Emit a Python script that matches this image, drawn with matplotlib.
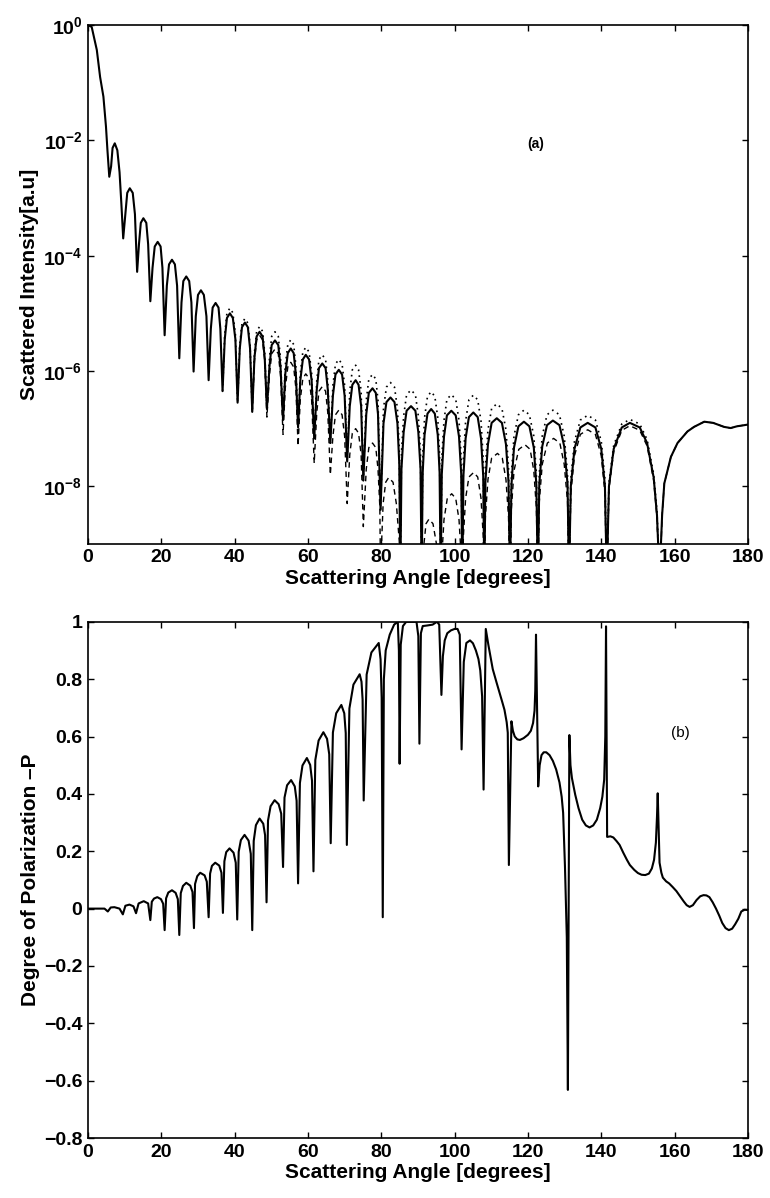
import matplotlib
matplotlib.use('Agg')
import matplotlib.pyplot as plt
import numpy as np
from matplotlib.ticker import FixedLocator, FuncFormatter, LogFormatterSciNotation, NullLocator

plt.rcParams['font.family'] = ['Liberation Sans', 'DejaVu Sans']
plt.rcParams['font.weight'] = 'bold'
plt.rcParams['axes.labelweight'] = 'bold'
plt.rcParams['mathtext.fontset'] = 'custom'
plt.rcParams['mathtext.rm'] = 'Liberation Sans:bold'
plt.rcParams['mathtext.it'] = 'Liberation Sans:italic:bold'
plt.rcParams['mathtext.bf'] = 'Liberation Sans:bold'

# ---- (a) scattered intensity, log10 values ----
# total (solid)
angle_total = [
    0.0, 1.0, 1.6, 2.4, 3.3, 4.2, 4.9, 5.3, 5.8,
    6.3, 6.7, 7.3, 8.0, 8.6, 9.1, 9.6,
    10.2, 10.7, 11.4, 12.2, 12.8, 13.4,
    13.9, 14.4, 15.1, 15.9, 16.4, 17.0,
    17.6, 18.2, 19.0, 19.8, 20.3, 20.9,
    21.5, 22.1, 22.9, 23.7, 24.3, 24.9,
    25.5, 26.0, 26.8, 27.6, 28.2, 28.8,
    29.4, 30.0, 30.8, 31.6, 32.3, 32.9,
    33.5, 34.0, 34.8, 35.6, 36.1, 36.7,
    37.3, 37.9, 38.7, 39.5, 40.2, 40.8,
    41.4, 42.0, 42.8, 43.6, 44.2, 44.8,
    45.4, 46.0, 46.8, 47.6, 48.2, 48.8,
    49.5, 50.1, 51.0, 51.9, 52.5, 53.2,
    53.8, 54.5, 55.3, 56.1, 56.7, 57.3,
    57.9, 58.6, 59.4, 60.3, 61.0, 61.7,
    62.4, 63.0, 63.9, 64.8, 65.4, 66.1,
    66.8, 67.5, 68.4, 69.3, 70.0, 70.7,
    71.4, 72.1, 73.0, 73.8, 74.5, 75.1,
    75.9, 76.6, 77.6, 78.5, 79.1, 79.8,
    80.6, 81.4, 82.5, 83.6, 84.4, 84.9, 85.2,
    85.5, 86.1, 86.9, 88.1, 89.3, 90.1, 90.7, 91.0,
    91.3, 91.8, 92.6, 93.6, 94.6, 95.4, 95.9, 96.2,
    96.5, 97.1, 97.9, 99.1, 100.3, 101.2, 101.8, 102.1,
    102.4, 103.0, 103.9, 105.1, 106.3, 107.2, 107.8, 108.1,
    108.4, 109.1, 110.1, 111.5, 112.9, 114.0, 114.7, 115.1,
    115.5, 116.2, 117.4, 118.9, 120.4, 121.6, 122.3, 122.7,
    123.1, 123.9, 125.2, 126.8, 128.6, 129.9, 130.8, 131.2,
    131.7, 132.7, 134.3, 136.3, 138.4, 140.0, 141.0, 141.5,
    142.1, 143.4, 145.6, 147.8, 150.5, 152.5, 154.3, 155.2, 155.9,
    156.6, 157.2, 159.0, 160.8, 163.5, 165.3, 168.1, 170.5, 173.5, 175.3, 177.0, 180.0,
]
log_total = [
    0.0, -0.03, -0.2, -0.43, -0.9, -1.24, -1.76, -2.17, -2.63,
    -2.45, -2.13, -2.05, -2.17, -2.55, -3.1, -3.70,
    -3.28, -2.91, -2.83, -2.91, -3.28, -4.28,
    -3.80, -3.43, -3.35, -3.43, -3.80, -4.79,
    -4.21, -3.84, -3.76, -3.84, -4.21, -5.38,
    -4.52, -4.15, -4.07, -4.15, -4.52, -5.78,
    -4.81, -4.44, -4.36, -4.44, -4.81, -6.01,
    -5.05, -4.68, -4.60, -4.68, -5.05, -6.16,
    -5.27, -4.90, -4.82, -4.90, -5.27, -6.35,
    -5.45, -5.08, -5.00, -5.08, -5.45, -6.55,
    -5.61, -5.24, -5.16, -5.24, -5.61, -6.71,
    -5.77, -5.40, -5.32, -5.40, -5.77, -6.66,
    -5.92, -5.55, -5.47, -5.55, -5.92, -6.85,
    -6.06, -5.69, -5.61, -5.69, -6.06, -6.98,
    -6.17, -5.80, -5.72, -5.80, -6.17, -7.17,
    -6.32, -5.95, -5.87, -5.95, -6.32, -7.25,
    -6.43, -6.06, -5.98, -6.06, -6.43, -7.57,
    -6.61, -6.24, -6.16, -6.24, -6.61, -7.90,
    -6.75, -6.38, -6.30, -6.38, -6.75, -8.41,
    -6.91, -6.54, -6.46, -6.54, -6.91, -7.6, -9.6,
    -7.7, -7.06, -6.69, -6.61, -6.69, -7.06, -7.7, -9.6,
    -7.76, -7.11, -6.74, -6.66, -6.74, -7.11, -7.76, -9.6,
    -7.79, -7.14, -6.77, -6.69, -6.77, -7.14, -7.79, -9.6,
    -7.82, -7.17, -6.80, -6.72, -6.80, -7.17, -7.82, -9.6,
    -7.92, -7.27, -6.90, -6.82, -6.90, -7.27, -7.92, -9.6,
    -7.98, -7.33, -6.96, -6.88, -6.96, -7.33, -7.98, -9.6,
    -7.96, -7.31, -6.94, -6.86, -6.94, -7.31, -7.96, -9.6,
    -8.0, -7.35, -6.98, -6.90, -6.98, -7.35, -8.0, -9.6,
    -8.0, -7.35, -6.98, -6.90, -6.98, -7.25, -7.85, -8.5, -9.6,
    -8.5, -7.95, -7.49, -7.25, -7.05, -6.97, -6.88, -6.90, -6.97, -6.99, -6.96, -6.93,
]

# perpendicular component (dotted), only where it separates from the total
angle_perp = [
    36.7,
    37.3, 37.9, 38.7, 39.5, 40.2, 40.8,
    41.4, 42.0, 42.8, 43.6, 44.2, 44.8,
    45.4, 46.0, 46.8, 47.6, 48.2, 48.8,
    49.5, 50.1, 51.0, 51.9, 52.5, 53.2,
    53.8, 54.5, 55.3, 56.1, 56.7, 57.3,
    57.9, 58.6, 59.4, 60.3, 61.0, 61.7,
    62.4, 63.0, 63.9, 64.8, 65.4, 66.1,
    66.8, 67.5, 68.4, 69.3, 70.0, 70.7,
    71.4, 72.1, 73.0, 73.8, 74.5, 75.1,
    75.9, 76.6, 77.6, 78.5, 79.1, 79.8,
    80.6, 81.4, 82.5, 83.6, 84.4, 84.9, 85.2,
    85.5, 86.1, 86.9, 88.1, 89.3, 90.1, 90.7, 91.0,
    91.3, 91.8, 92.6, 93.6, 94.6, 95.4, 95.9, 96.2,
    96.5, 97.1, 97.9, 99.1, 100.3, 101.2, 101.8, 102.1,
    102.4, 103.0, 103.9, 105.1, 106.3, 107.2, 107.8, 108.1,
    108.4, 109.1, 110.1, 111.5, 112.9, 114.0, 114.7, 115.1,
    115.5, 116.2, 117.4, 118.9, 120.4, 121.6, 122.3, 122.7,
    123.1, 123.9, 125.2, 126.8, 128.6, 129.9, 130.8, 131.2,
    131.7, 132.7, 134.3, 136.3, 138.4, 140.0, 141.0, 141.5,
    142.1, 143.4, 145.6, 147.8, 150.5, 152.5, 154.3, 155.2, 155.9,
]
log_perp = [
    -6.35,
    -5.36, -4.99, -4.91, -4.99, -5.36, -6.55,
    -5.54, -5.17, -5.09, -5.17, -5.54, -6.71,
    -5.68, -5.31, -5.23, -5.31, -5.68, -6.66,
    -5.77, -5.40, -5.32, -5.40, -5.77, -6.85,
    -5.91, -5.54, -5.46, -5.54, -5.91, -6.98,
    -6.04, -5.67, -5.59, -5.67, -6.04, -7.17,
    -6.17, -5.80, -5.72, -5.80, -6.17, -7.25,
    -6.25, -5.88, -5.80, -5.88, -6.25, -7.57,
    -6.35, -5.98, -5.90, -5.98, -6.35, -7.90,
    -6.51, -6.14, -6.06, -6.14, -6.51, -8.41,
    -6.65, -6.28, -6.20, -6.28, -6.65, -7.34, -9.6,
    -7.42, -6.78, -6.41, -6.33, -6.41, -6.78, -7.42, -9.6,
    -7.46, -6.81, -6.44, -6.36, -6.44, -6.81, -7.46, -9.6,
    -7.51, -6.86, -6.49, -6.41, -6.49, -6.86, -7.51, -9.6,
    -7.52, -6.87, -6.50, -6.42, -6.50, -6.87, -7.52, -9.6,
    -7.67, -7.02, -6.65, -6.57, -6.65, -7.02, -7.67, -9.6,
    -7.78, -7.13, -6.76, -6.68, -6.76, -7.13, -7.78, -9.6,
    -7.78, -7.13, -6.76, -6.68, -6.76, -7.13, -7.78, -9.6,
    -7.87, -7.22, -6.85, -6.77, -6.85, -7.22, -7.87, -9.6,
    -7.94, -7.29, -6.92, -6.84, -6.92, -7.19, -7.79, -8.44, -9.6,
]

# parallel component (dashed), where it drops below the total
angle_par = [
    44.8,
    45.4, 46.0, 46.8, 47.6, 48.2, 48.8,
    49.5, 50.1, 51.0, 51.9, 52.5, 53.2,
    53.8, 54.5, 55.3, 56.1, 56.7, 57.3,
    57.9, 58.6, 59.4, 60.3, 61.0, 61.7,
    62.4, 63.0, 63.9, 64.8, 65.4, 66.1,
    66.8, 67.5, 68.4, 69.3, 70.0, 70.7,
    71.4, 72.1, 73.0, 73.8, 74.5, 75.1,
    75.9, 76.6, 77.6, 78.5, 79.1, 79.6, 79.8,
    80.1, 80.5, 81.2, 82.0, 83.2, 84.1, 84.9, 85.2,
    88.1, 91.0,
    91.6, 92.2, 93.0, 94.1, 95.1, 95.8, 96.2,
    96.5, 97.1, 98.0, 99.2, 100.3, 101.2, 101.8, 102.1,
    102.4, 103.0, 103.9, 105.2, 106.3, 107.2, 107.8, 108.1,
    108.4, 109.1, 110.1, 111.7, 113.0, 114.0, 114.7, 115.1,
    115.5, 116.2, 117.5, 119.2, 120.6, 121.6, 122.3, 122.7,
    123.1, 123.9, 125.3, 127.0, 128.7, 129.9, 130.8, 131.2,
    131.7, 132.7, 134.3, 136.3, 138.4, 140.0, 141.0, 141.5,
    142.1, 143.4, 145.6, 147.8, 150.5, 152.5, 154.3, 155.2, 155.9,
    156.6, 157.2, 159.0, 160.8, 163.5, 165.3, 168.1, 170.5, 173.5, 175.3, 177.0, 180.0,
]
log_par = [
    -6.71,
    -5.83, -5.46, -5.38, -5.46, -5.83, -6.80,
    -6.07, -5.70, -5.62, -5.70, -6.07, -7.10,
    -6.30, -5.93, -5.85, -5.93, -6.30, -7.30,
    -6.50, -6.13, -6.05, -6.13, -6.50, -7.60,
    -6.72, -6.35, -6.27, -6.35, -6.72, -7.80,
    -7.13, -6.76, -6.68, -6.76, -7.13, -8.30,
    -7.45, -7.08, -7.00, -7.08, -7.45, -8.70,
    -7.70, -7.33, -7.25, -7.33, -7.70, -8.35, -9.6,
    -8.95, -8.30, -7.93, -7.85, -7.93, -8.30, -8.95, -9.6,
    -9.3, -9.6,
    -9.02, -8.65, -8.57, -8.65, -9.02, -9.67, -9.8,
    -9.23, -8.58, -8.21, -8.13, -8.21, -8.58, -9.23, -9.8,
    -8.86, -8.21, -7.84, -7.76, -7.84, -8.21, -8.86, -9.8,
    -8.53, -7.88, -7.51, -7.43, -7.51, -7.88, -8.53, -9.8,
    -8.38, -7.73, -7.36, -7.28, -7.36, -7.73, -8.38, -9.8,
    -8.27, -7.62, -7.25, -7.17, -7.25, -7.62, -8.27, -9.8,
    -8.12, -7.47, -7.10, -7.02, -7.10, -7.47, -8.12, -9.8,
    -8.05, -7.40, -7.03, -6.95, -7.03, -7.30, -7.90, -8.55, -9.8,
    -8.5, -7.95, -7.49, -7.25, -7.05, -6.97, -6.88, -6.90, -6.97, -6.99, -6.96, -6.93,
]

# ---- (b) degree of polarization ----
angle_pol = [
    0.0, 3.0, 4.5, 5.4, 6.2, 7.2, 8.6, 9.5, 10.2, 11.3, 12.4, 13.1, 13.8, 15.2, 16.4, 17.0,
    17.4, 18.0, 18.9, 19.9, 20.5, 20.9,
    21.3, 21.9, 22.9, 23.9, 24.5, 24.9,
    25.3, 25.9, 26.8, 27.9, 28.5, 28.9,
    29.2, 29.8, 30.6, 31.8, 32.4, 32.9,
    33.3, 33.8, 34.7, 35.8, 36.4, 36.8,
    37.2, 37.7, 38.6, 39.7, 40.3, 40.7,
    41.1, 41.7, 42.7, 43.8, 44.4, 44.8,
    45.2, 45.8, 46.8, 47.8, 48.3, 48.7,
    49.1, 49.8, 50.9, 52.0, 52.7, 53.2,
    53.6, 54.3, 55.4, 56.4, 56.9, 57.3,
    57.8, 58.5, 59.7, 60.6, 61.1, 61.5,
    62.0, 62.9, 64.2, 65.2, 65.8, 66.2,
    66.8, 67.7, 69.1, 69.9, 70.3, 70.6,
    71.3, 72.4, 74.1, 74.6, 74.9, 75.2,
    76.0, 77.3, 79.3, 79.8, 80.1, 80.4,
    80.7, 81.2, 82.3, 83.5, 84.5, 84.8, 85.0, 85.3, 85.9, 86.8, 89.6, 90.1, 90.4,
    90.8, 91.3, 92.5, 94.0, 95.2, 95.8, 96.4,
    96.8, 97.3, 98.0, 99.0, 100.0, 100.8, 101.4, 101.9,
    102.5, 103.2, 104.2, 105.0, 105.8, 106.5, 107.0, 107.5, 107.9,
    108.5, 109.2, 110.4, 111.4, 112.3, 113.0, 113.6, 114.2, 114.5, 114.8,
    115.5, 115.9, 116.4, 117.1, 117.8, 118.8, 120.0, 120.8, 121.4, 121.8, 122.0, 122.2, 122.8,
    123.2, 123.7, 124.3, 125.0, 125.9, 126.8, 127.7, 128.6, 129.2, 129.6, 130.1, 130.6, 130.9,
    131.3, 131.6, 132.0, 132.9, 133.8, 134.8, 135.8, 136.8, 137.8, 138.8, 139.7, 140.3, 140.8,
    141.1, 141.3, 141.6,
    142.5, 143.3, 144.2, 145.0, 146.0, 147.0, 147.8, 149.0, 150.0, 151.0, 152.0, 153.0,
    153.8, 154.4, 154.9, 155.2, 155.4, 155.7, 155.9,
    156.4, 156.8, 157.7, 158.5, 159.5, 160.5, 161.5, 162.5, 163.3, 164.1, 165.0, 166.0,
    167.0, 167.9, 168.7, 169.5, 170.4, 171.3, 172.2, 173.0, 173.9, 174.8, 175.7, 176.5,
    177.4, 178.2, 179.1, 180.0,
]
pol = [
    0.0, 0.0, 0.0, -0.01, 0.004, 0.005, 0.0, -0.02, 0.01, 0.014, 0.008, -0.016, 0.018, 0.026, 0.018, -0.04,
    0.024, 0.035, 0.04, 0.033, 0.017, -0.075,
    0.036, 0.056, 0.064, 0.055, 0.033, -0.092,
    0.054, 0.079, 0.09, 0.08, 0.058, -0.068,
    0.086, 0.113, 0.125, 0.116, 0.094, -0.03,
    0.122, 0.149, 0.16, 0.15, 0.125, -0.015,
    0.165, 0.197, 0.21, 0.195, 0.16, -0.038,
    0.198, 0.239, 0.257, 0.237, 0.191, -0.075,
    0.236, 0.291, 0.314, 0.296, 0.256, 0.022,
    0.307, 0.357, 0.378, 0.364, 0.331, 0.145,
    0.387, 0.43, 0.448, 0.426, 0.376, 0.088,
    0.438, 0.499, 0.525, 0.501, 0.446, 0.13,
    0.518, 0.586, 0.615, 0.592, 0.538, 0.228,
    0.614, 0.681, 0.71, 0.681, 0.612, 0.222,
    0.698, 0.781, 0.817, 0.791, 0.729, 0.377,
    0.816, 0.893, 0.926, 0.869, 0.735, -0.03,
    0.80, 0.90, 0.955, 0.99, 1.0, 0.9, 0.505, 0.92, 0.985, 1.0, 1.0, 0.95, 0.575,
    0.96, 0.985, 0.987, 0.99, 1.0, 0.99, 0.745,
    0.88, 0.935, 0.96, 0.97, 0.975, 0.975, 0.955, 0.555,
    0.86, 0.926, 0.935, 0.925, 0.90, 0.87, 0.83, 0.74, 0.415,
    0.975, 0.92, 0.835, 0.79, 0.751, 0.72, 0.693, 0.65, 0.613, 0.152,
    0.653, 0.62, 0.60, 0.59, 0.588, 0.594, 0.606, 0.62, 0.647, 0.69, 0.76, 0.955, 0.426,
    0.50, 0.535, 0.545, 0.545, 0.535, 0.515, 0.485, 0.44, 0.39, 0.334, 0.147, -0.1, -0.632,
    0.605, 0.50, 0.455, 0.397, 0.35, 0.31, 0.29, 0.283, 0.29, 0.31, 0.35, 0.39, 0.45,
    0.6, 0.984, 0.25,
    0.252, 0.248, 0.235, 0.222, 0.195, 0.17, 0.152, 0.135, 0.124, 0.118, 0.117, 0.122,
    0.14, 0.17, 0.23, 0.32, 0.402, 0.25, 0.16,
    0.125, 0.108, 0.095, 0.088, 0.075, 0.061, 0.043, 0.025, 0.012, 0.006, 0.012, 0.03,
    0.043, 0.047, 0.046, 0.04, 0.022, 0.0, -0.025, -0.05, -0.068, -0.075, -0.07, -0.055,
    -0.035, -0.01, -0.004, -0.005,
]

x_ticks = [0, 20, 40, 60, 80, 100, 120, 140, 160, 180]
intensity_ticks = [1e0, 1e-2, 1e-4, 1e-6, 1e-8]
pol_ticks = [-0.8, -0.6, -0.4, -0.2, 0, 0.2, 0.4, 0.6, 0.8, 1]

fs_tick = 14
fs_label = 15

fig = plt.figure(figsize=(7.7, 11.98), dpi=100)

def style_axes(ax):
    ax.tick_params(direction='in', top=True, right=True, length=4, width=1,
                   labelsize=fs_tick, pad=4)
    for s in ax.spines.values():
        s.set_linewidth(1.2)
    ax.set_xlim(0, 180)
    ax.xaxis.set_major_locator(FixedLocator(x_ticks))
    ax.set_xlabel('Scattering Angle [degrees]', fontsize=fs_label, labelpad=2)

# top panel
ax1 = fig.add_axes([0.1143, 0.546, 0.857, 0.433])
ax1.set_yscale('log')
ax1.plot(angle_par, 10.0 ** np.array(log_par), color='black', lw=1.0, ls=(0, (4, 3)))
ax1.plot(angle_perp, 10.0 ** np.array(log_perp), color='black', lw=1.2, ls=(0, (1, 2.5)))
ax1.plot(angle_total, 10.0 ** np.array(log_total), color='black', lw=1.5)
ax1.set_ylim(1e-9, 1)
ax1.yaxis.set_major_locator(FixedLocator(intensity_ticks))
ax1.yaxis.set_minor_locator(NullLocator())
ax1.yaxis.set_major_formatter(LogFormatterSciNotation())
style_axes(ax1)
ax1.set_ylabel('Scattered Intensity[a.u]', fontsize=fs_label, labelpad=3)
ax1.text(0.678, 0.77, '(a)', transform=ax1.transAxes, fontsize=10, fontweight='bold',
         ha='center', va='center')

# bottom panel
ax2 = fig.add_axes([0.1143, 0.050, 0.857, 0.431])
ax2.plot(angle_pol, pol, color='black', lw=1.5)
ax2.set_ylim(-0.8, 1)
ax2.yaxis.set_major_locator(FixedLocator(pol_ticks))
ax2.yaxis.set_major_formatter(FuncFormatter(lambda v, p: ('%g' % round(v, 1)).replace('-', '\u2212')))
style_axes(ax2)
ax2.set_ylabel('Degree of Polarization \u2013P', fontsize=fs_label, labelpad=3)
ax2.text(0.897, 0.785, '(b)', transform=ax2.transAxes, fontsize=11, fontweight='normal',
         ha='center', va='center')

fig.savefig('out.png', dpi=100)
